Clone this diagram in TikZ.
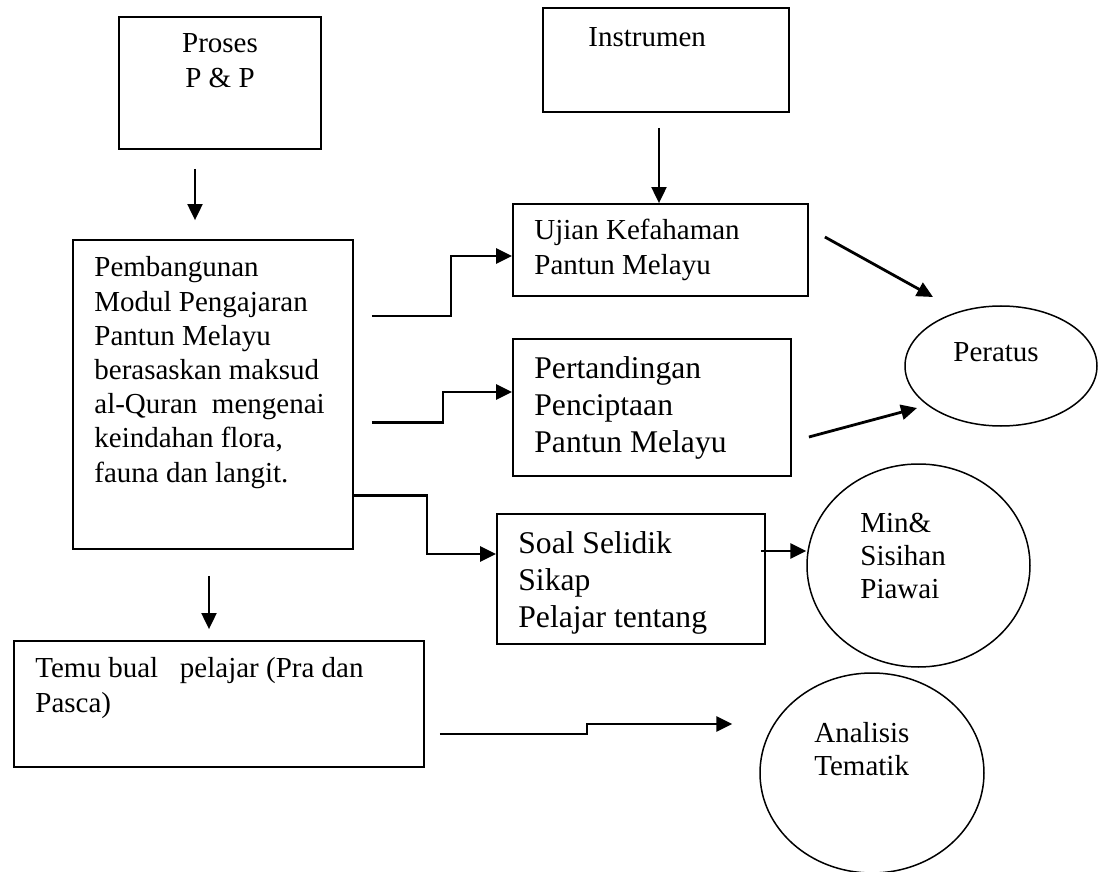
\documentclass[tikz,border=0pt]{standalone}
\usepackage{fontspec}
\setmainfont{Liberation Serif}
\usetikzlibrary{
  arrows.meta,
  calc,
  shapes.geometric
}
\tikzset{
  box/.style={draw, rectangle, line width=0.9pt, inner sep=0pt},
  oval/.style={draw, ellipse, line width=0.75pt, inner sep=0pt},
  txt/.style={inner sep=0pt, anchor=base west, align=left,
    font=\fontsize{14.5}{17.1}\selectfont},
  bigTxt/.style={txt, font=\fontsize{15.8}{18.5}\selectfont},
  link/.style={->, line width=1.4pt},
  thinLink/.style={->, line width=1pt}
}

\begin{document}
\begin{tikzpicture}[
      x=0.5pt, y=-0.5pt,
      >={Triangle[length=8pt, width=7.5pt]}
      ]
      \useasboundingbox (0,0) rectangle (1105,872);

      % kotak dan bujur
      \node[box, minimum width=101pt, minimum height=66pt] (proses) at (220,83) {};
      \node[box, minimum width=123pt, minimum height=52pt] (instr) at (666,60) {};
      \node[box, minimum width=140pt, minimum height=154.5pt] (pemb) at (213,394.5) {};
      \node[box, minimum width=147.5pt, minimum height=46pt] (ujian) at (660.5,250) {};
      \node[box, minimum width=139pt, minimum height=68.5pt] (pert) at (652,407.5) {};
      \node[box, minimum width=134pt, minimum height=65pt] (soal) at (631,579) {};
      \node[box, minimum width=205pt, minimum height=63pt] (temu) at (219,704) {};
      \node[oval, minimum width=96pt, minimum height=60pt] (peratus) at (1001,366) {};
      \node[oval, minimum width=111.5pt, minimum height=101.5pt] (minsd) at (918.5,565.5) {};
      \node[oval, minimum width=112pt, minimum height=100pt] (analisis) at (872,773) {};

      % teks (titik = garis dasar baris terakhir)
      \node[txt, anchor=base, align=center, font=\fontsize{14.5}{17.5}\selectfont] (prosesText) at (220,88) {Proses\\P \& P};
      \node[txt] (instrText) at (588,47) {Instrumen};
      \node[txt] (pembText) at (94,482) {Pembangunan\\Modul Pengajaran\\Pantun Melayu\\berasaskan maksud\\al-Quran\ \ mengenai\\keindahan flora,\\fauna dan langit.};
      \node[txt, font=\fontsize{14.5}{17.5}\selectfont] (ujianText) at (534,275) {Ujian Kefahaman\\Pantun Melayu};
      \node[bigTxt] (pertText) at (534,452) {Pertandingan\\Penciptaan\\Pantun Melayu};
      \node[bigTxt] (soalText) at (518,627) {Soal Selidik\\Sikap\\Pelajar tentang};
      \node[txt, font=\fontsize{14.5}{17.5}\selectfont] (temuText) at (35,712) {Temu bual\ \ \ pelajar (Pra dan\\Pasca)};
      \node[txt] (peratusText) at (953,362) {Peratus};
      \node[txt, font=\fontsize{14.5}{16.5}\selectfont] (minsdText) at (860,598) {Min\&\\Sisihan\\Piawai};
      \node[txt, font=\fontsize{14.5}{16.5}\selectfont] (analisisText) at (814,775) {Analisis\\Tematik};

      % anak panah
      \draw[thinLink] ($(proses.south)+(-25,19)$) -- ($(pemb.north)+(-18,-19)$);
      \draw[thinLink] ($(instr.south)+(-7,15)$) -- ($(ujian.north)+(-1.5,0)$);
      \draw[link] ($(pemb.north east)+(18,77)$) -- ++(79,0) |- ($(ujian.west)+(0,6)$);
      \draw[link] ($(pemb.north east)+(18,183)$) -- ++(71,0) |- ($(pert.west)+(0,-15.5)$);
      \draw[link] ($(pemb.north east)+(0,256)$) -- ++(73,0) |- ($(soal.west)+(0,-25)$);
      \draw[link] ($(soal.east)+(-5,-28)$) -- ($(minsd.west)+(0,-14.5)$);
      \draw[link] ($(ujian.east)+(16,-13)$) -- ($(peratus.center)+(-68,-69)$);
      \draw[link] ($(pert.east)+(17,29.5)$) -- ($(peratus.center)+(-84,42)$);
      \draw[thinLink] ($(pemb.south)+(-4,26)$) -- ($(temu.north)+(-10,-11)$);
      \draw[link] ($(temu.east)+(15,30)$) -- ++(147,0) -- ++(0,-10) -- ($(analisis.west)+(-27,-49)$);
    \end{tikzpicture}
\end{document}
